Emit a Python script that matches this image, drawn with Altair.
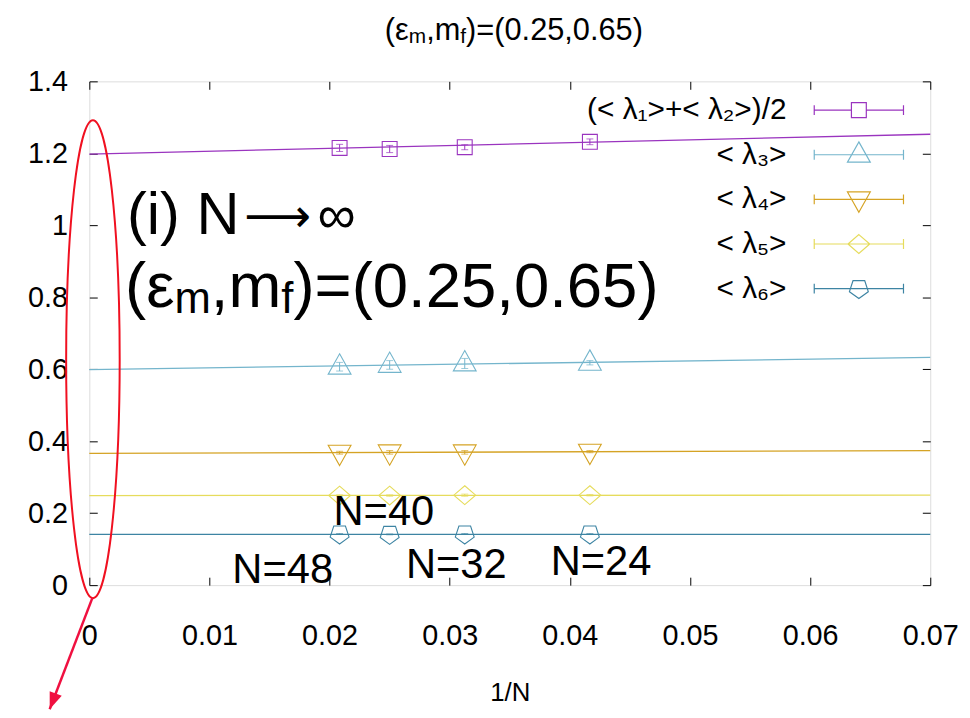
import altair as alt
import pandas as pd

# ---------------- data ----------------
N_values = [48, 40, 32, 24]
inv_N = [1 / 48, 1 / 40, 1 / 32, 1 / 24]

series = ["(< λ₁>+< λ₂>)/2", "< λ₃>", "< λ₄>", "< λ₅>", "< λ₆>"]
colors = ["#9a34bf", "#74b5cc", "#d5a324", "#e6dc5c", "#3d84a3"]

lam12 = [1.215, 1.212, 1.217, 1.232]
lam3 = [0.607, 0.612, 0.616, 0.618]
lam4 = [0.368, 0.369, 0.369, 0.371]
lam5 = [0.249, 0.249, 0.250, 0.250]
lam6 = [0.142, 0.141, 0.142, 0.142]

err12 = [0.010, 0.010, 0.007, 0.008]
err3 = [0.012, 0.012, 0.014, 0.006]
err4 = [0.004, 0.005, 0.005, 0.003]
err5 = [0.002, 0.002, 0.003, 0.002]
err6 = [0.001, 0.001, 0.001, 0.001]

# linear extrapolation lines: value at 1/N = 0 and at 1/N = 0.07
fit_x = [0.0, 0.07]
fit12 = [1.198, 1.253]
fit3 = [0.599, 0.633]
fit4 = [0.366, 0.374]
fit5 = [0.249, 0.250]
fit6 = [0.141, 0.141]

x_ticks = [0, 0.01, 0.02, 0.03, 0.04, 0.05, 0.06, 0.07]
y_ticks = [0, 0.2, 0.4, 0.6, 0.8, 1.0, 1.2, 1.4]

# ---------------- tables ----------------
vals = [lam12, lam3, lam4, lam5, lam6]
errs = [err12, err3, err4, err5, err6]
fits = [fit12, fit3, fit4, fit5, fit6]

pts = pd.DataFrame(
    [
        {"series": s, "invN": x, "N": n, "val": v, "err": e}
        for s, vv, ee in zip(series, vals, errs)
        for x, n, v, e in zip(inv_N, N_values, vv, ee)
    ]
)
fit_df = pd.DataFrame(
    [{"series": s, "x": x, "y": y} for s, ff in zip(series, fits) for x, y in zip(fit_x, ff)]
)

# ---------------- layout ----------------
W, H = 848, 508
FONT = "Liberation Sans"

xs = alt.Scale(domain=[0, 0.07], nice=False, zero=False)
ys = alt.Scale(domain=[0, 1.4], nice=False, zero=False)
cs = alt.Scale(domain=series, range=colors)

marker_paths = [
    "M-0.75,-0.75H0.75V0.75H-0.75Z",
    "M0,-1.3L1.15,0.75L-1.15,0.75Z",
    "M0,1.3L1.15,-0.75L-1.15,-0.75Z",
    "M0,-0.95L1.1,0L0,0.95L-1.1,0Z",
    "M0,1L0.951,0.309L0.588,-0.809L-0.588,-0.809L-0.951,0.309Z",
]
caps = "M-4.5,-0.5V0.5M4.5,-0.5V0.5"
legend_paths = [
    "M-4.5,0H-0.75M0.75,0H4.5" + caps + marker_paths[0],
    "M-4.5,0H4.5" + caps + marker_paths[1],
    "M-4.5,0H4.5" + caps + marker_paths[2],
    "M-4.5,0H4.5" + caps + marker_paths[3],
    "M-4.5,0H4.5" + caps + marker_paths[4],
]

no_axis = dict(axis=None)

# axis with labels
ax_x_main = alt.Axis(values=x_ticks, format="~g", orient="bottom", ticks=False, tickSize=0,
                     domain=False, grid=False, labelFontSize=29, labelFont=FONT,
                     labelColor="black", labelPadding=37, labelFlush=False,
                     title="1/N", titleFont=FONT, titleFontSize=26, titleFontWeight="normal",
                     titleColor="black", titlePadding=29)
ax_y_main = alt.Axis(values=y_ticks, format="~g", orient="left", ticks=False, tickSize=0,
                     domain=False, grid=False, labelFontSize=29, labelFont=FONT,
                     labelColor="black", labelPadding=22, labelFlush=False, title=None)


def tick_axis(orient, values, offset):
    return alt.Axis(values=values, orient=orient, offset={"expr": str(offset)}, labels=False,
                    ticks=True, tickSize=8, tickColor="black", tickWidth=1, domain=False,
                    grid=False, title=None)


axis_main = alt.Chart(fit_df).mark_point(opacity=0).encode(
    x=alt.X("x:Q", scale=xs, axis=ax_x_main),
    y=alt.Y("y:Q", scale=ys, axis=ax_y_main),
)
axis_in1 = alt.Chart(fit_df).mark_point(opacity=0).encode(
    x=alt.X("x:Q", scale=xs, axis=tick_axis("top", x_ticks, -H)),
    y=alt.Y("y:Q", scale=ys, axis=tick_axis("right", y_ticks, -W)),
)
axis_in2 = alt.Chart(fit_df).mark_point(opacity=0).encode(
    x=alt.X("x:Q", scale=xs, axis=tick_axis("bottom", x_ticks, -H)),
    y=alt.Y("y:Q", scale=ys, axis=tick_axis("left", y_ticks, -W)),
)

lines = alt.Chart(fit_df).mark_line(strokeWidth=1.3).encode(
    x=alt.X("x:Q", scale=xs, **no_axis),
    y=alt.Y("y:Q", scale=ys, **no_axis),
    color=alt.Color("series:N", scale=cs, legend=None),
)

base = alt.Chart(pts).transform_calculate(lo="datum.val - datum.err", hi="datum.val + datum.err")
ebar = base.mark_rule(strokeWidth=1).encode(
    x=alt.X("invN:Q", scale=xs, **no_axis),
    y=alt.Y("lo:Q", scale=ys, **no_axis),
    y2="hi:Q",
    color=alt.Color("series:N", scale=cs, legend=None),
)
cap_lo = base.mark_tick(orient="horizontal", size=7, thickness=1).encode(
    x=alt.X("invN:Q", scale=xs, **no_axis),
    y=alt.Y("lo:Q", scale=ys, **no_axis),
    color=alt.Color("series:N", scale=cs, legend=None),
)
cap_hi = base.mark_tick(orient="horizontal", size=7, thickness=1).encode(
    x=alt.X("invN:Q", scale=xs, **no_axis),
    y=alt.Y("hi:Q", scale=ys, **no_axis),
    color=alt.Color("series:N", scale=cs, legend=None),
)
points = alt.Chart(pts).mark_point(filled=False, size=400, strokeWidth=1.1, opacity=1).encode(
    x=alt.X("invN:Q", scale=xs, **no_axis),
    y=alt.Y("val:Q", scale=ys, **no_axis),
    color=alt.Color("series:N", scale=cs, legend=None),
    shape=alt.Shape("series:N", scale=alt.Scale(domain=series, range=marker_paths), legend=None),
)

leg = alt.Legend(orient="none", legendX=761, legendY=14, title=None, labelFontSize=30,
                 labelFont=FONT, labelColor="black", labelAlign="right",
                 labelOffset={"expr": "-88"},
                 labelLimit=600, symbolStrokeWidth=1.2, symbolOpacity=1, symbolSize=400,
                 rowPadding=13, gridAlign="all", padding=0)
legend_layer = alt.Chart(fit_df[fit_df.x == 0]).mark_point(filled=False, size=400, opacity=0).encode(
    x=alt.X("x:Q", scale=xs, **no_axis),
    y=alt.Y("y:Q", scale=ys, **no_axis),
    color=alt.Color("series:N", scale=cs, legend=leg),
    shape=alt.Shape("series:N", scale=alt.Scale(domain=series, range=legend_paths), legend=leg),
)

# ---------------- red annotation (ellipse + arrow) ----------------
ell_df = pd.DataFrame({"x": [0.0003], "y": [0.628]})
ellipse = alt.Chart(ell_df).mark_point(
    shape="M-0.112,0A0.112,1,0,1,0,0.112,0A0.112,1,0,1,0,-0.112,0",
    size=482 * 482, filled=False, stroke="#f01020", strokeWidth=2, opacity=1,
).encode(x=alt.X("x:Q", scale=xs, **no_axis), y=alt.Y("y:Q", scale=ys, **no_axis))

arrow_df = pd.DataFrame({"x": [0.00025, -0.0033], "y": [-0.036, -0.345]})
arrow = alt.Chart(arrow_df).mark_line(color="#f01040", strokeWidth=2.5).encode(
    x=alt.X("x:Q", scale=xs, **no_axis), y=alt.Y("y:Q", scale=ys, **no_axis)
)
head = alt.Chart(arrow_df.iloc[[1]]).mark_point(
    shape="M0,0L-0.65,-1.7L0.65,-1.7Z", size=400, filled=True, color="#f01040",
    opacity=1, angle=21,
).encode(x=alt.X("x:Q", scale=xs, **no_axis), y=alt.Y("y:Q", scale=ys, **no_axis))

# ---------------- texts ----------------
EM = {"(": .333, ")": .333, ",": .278, ".": .278, "=": .584, "m": .833, "f": .278,
      "ε": .446, " ": .278, "N": .722, "i": .222}


def tw(s, size):
    return sum(EM.get(c, .556) for c in s) * size


one = pd.DataFrame({"k": [0]})


def text(s, x, y, size, align="left", baseline="alphabetic", font=FONT):
    return alt.Chart(one).mark_text(text=s, font=font, fontSize=size, color="black",
                                    align=align, baseline=baseline).encode(
        x=alt.value(x), y=alt.value(y))


def rich(pieces, x0, y0):
    out = []
    x = x0
    for s, size, dy in pieces:
        out.append(text(s, x, y0 + dy, size))
        x += tw(s, size)
    return out


texts = []
texts.append(text("(i) N", 38, 154, 60))
texts.append(text("⟶", 156, 152, 47, font="DejaVu Sans"))
texts.append(text("∞", 230, 153, 54))
texts += rich([("(ε", 64, 0), ("m", 44, 6), (",m", 64, 0), ("f", 44, 6), (")=(0.25,0.65)", 64, 0)],
              36, 228)
texts += rich([("(ε", 31, 0), ("m", 21, 3), (",m", 31, 0), ("f", 21, 3), (" )=(0.25,0.65)", 31, 0)],
              298, -42)
for lab, px, py in [("N=48", 195, 493), ("N=40", 297, 434), ("N=32", 370, 488), ("N=24", 516, 485)]:
    texts.append(text(lab, px, py, 42, align="center", baseline="middle"))

chart = (
    alt.layer(axis_main, axis_in1, axis_in2, lines, ebar, cap_lo, cap_hi, points, legend_layer,
              ellipse, arrow, head, *texts)
    .resolve_scale(shape="independent")
    .resolve_legend(color="independent", shape="independent")
    .resolve_axis(x="independent", y="independent")
    .properties(width=W, height=H, autosize=alt.AutoSizeParams(type="none"),
                padding={"left": 82, "top": 71, "right": 32, "bottom": 131})
    .configure_view(stroke="black", strokeWidth=1.2)
    .configure(font=FONT, background="white")
)

chart.save("out.html", embed_options={"renderer": "svg", "actions": False})
